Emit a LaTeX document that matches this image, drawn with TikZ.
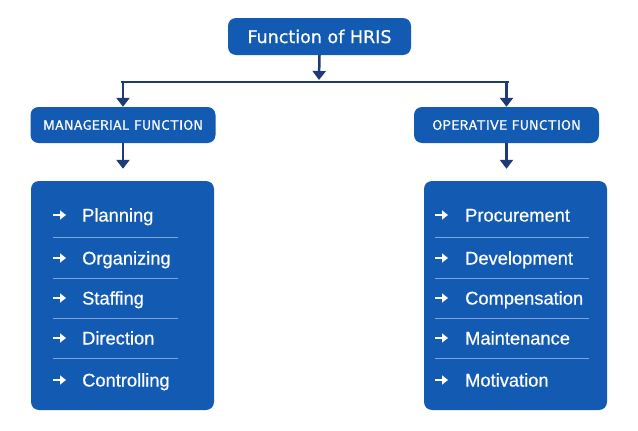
\documentclass[tikz,border=0pt]{standalone}
\usepackage{fontspec}
\setmainfont{Liberation Sans}
\newfontfamily\titlefont[FakeBold=0.8]{DejaVu Sans}
\newfontfamily\headfont[LetterSpace=3,FakeBold=2]{Latin Modern Sans}
\usetikzlibrary{arrows.meta,positioning}
\definecolor{boxblue}{HTML}{135BB2}
\definecolor{linenavy}{HTML}{1D3B78}
\definecolor{rulelight}{HTML}{7FA4D8}

\begin{document}
\begin{tikzpicture}[x=1pt, y=-1pt,
    box/.style={fill=boxblue, rounded corners=8pt, text=white, inner sep=0pt},
    headbox/.style={box, font=\headfont\fontsize{13.5}{15}\selectfont,
      minimum width=185pt, minimum height=36pt},
    listbox/.style={box, minimum width=183pt, minimum height=229pt},
    item/.style={anchor=base west, text=white, inner sep=0pt,
      font=\addfontfeature{FakeBold=0.6}\fontsize{18.3}{21}\selectfont},
    wire/.style={draw=linenavy, line width=2.5pt},
    link/.style={wire, -{Triangle[length=9pt, width=13pt]}},
    bullet/.style={draw=white, line width=2pt, -{Triangle[length=6pt, width=9pt]}},
    sep/.style={draw=rulelight, line width=0.8pt}]
  \useasboundingbox (0,0) rectangle (638,431);

  % top and second level
  \node[box, minimum width=183pt, minimum height=37pt,
    font=\titlefont\fontsize{17.5}{20}\selectfont] (hris) at (319.5,36.5) {Function of HRIS};
  \node[headbox] (mgr) at (123,125) {MANAGERIAL FUNCTION};
  \node[headbox] (opr) at (506.5,125) {OPERATIVE FUNCTION};
  \coordinate (split) at (319,82);

  \draw[link] (hris.south) -- ([yshift=2pt]split);
  \draw[wire] ([xshift=-2pt]split -| mgr) -- ([xshift=2pt]split -| opr);
  \draw[link] (split -| mgr) -- (mgr.north);
  \draw[link] (split -| opr) -- (opr.north);

  % lists
  \node[listbox] (mlist) at (122.5,295.5) {};
  \node[listbox] (olist) at (515.5,295.5) {};
  \draw[link] (mgr.south) -- ([yshift=12pt]mgr.south |- mlist.north);
  \draw[link] (opr.south) -- ([yshift=12pt]opr.south |- olist.north);

  \foreach \txt/\y [count=\i] in {Planning/221.5, Organizing/264.5, Staffing/304.5,
      Direction/344.5, Controlling/386.5}
    \node[item] (m\i) at (82,\y) {\txt};
  \foreach \txt/\y [count=\i] in {Procurement/221.5, Development/264.5, Compensation/304.5,
      Maintenance/344.5, Motivation/386.5}
    \node[item] (o\i) at (465,\y) {\txt};

  \foreach \i in {1,...,5} {
    \draw[bullet] ([xshift=-29pt, yshift=6.5pt]m\i.base west) -- ++(13,0);
    \draw[bullet] ([xshift=-30pt, yshift=6.5pt]o\i.base west) -- ++(13,0);
  }
  \foreach \y in {237,278,318,358} {
    \draw[sep] (53,\y) -- (178,\y);
    \draw[sep] (435,\y) -- (589,\y);
  }
\end{tikzpicture}
\end{document}
